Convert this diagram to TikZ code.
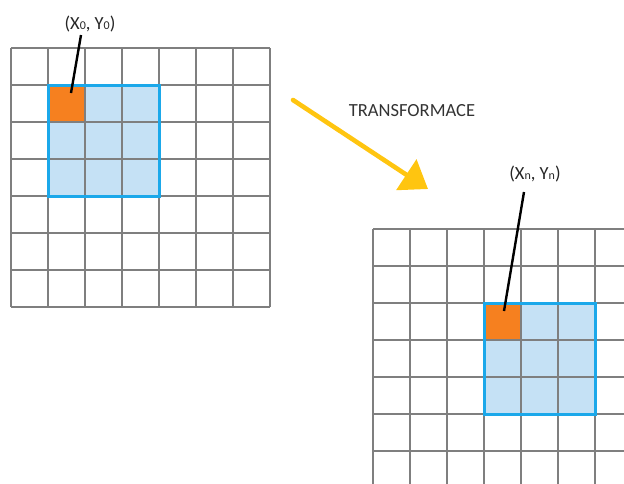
\documentclass[tikz,border=0pt]{standalone}
\usepackage{fontspec}
\setmainfont{Carlito}
\usetikzlibrary{arrows.meta}
\definecolor{gridgray}{HTML}{7F7F7F}
\definecolor{cellorange}{HTML}{F6801F}
\definecolor{winfill}{HTML}{C5E1F5}
\definecolor{winborder}{HTML}{1BA8EA}
\definecolor{arrowyellow}{HTML}{FFC510}
\tikzset{
  gridline/.style={draw=gridgray, line width=1.2pt},
  winbox/.style={draw=winborder, line width=3pt},
  leader/.style={draw=black, line width=2.4pt},
  coordlabel/.style={font=\fontsize{18.5}{21}\selectfont, text=black!85, inner sep=0pt}
}
\newcommand{\sbs}[1]{\raisebox{-0.3pt}{\fontsize{12}{12}\selectfont #1}}
\begin{document}
\begin{tikzpicture}[x=1pt,y=-1pt]
\useasboundingbox (0,0) rectangle (624,483);
\clip (0,0) rectangle (624,483);
% ---- left grid
\fill[winfill] (48,85) rectangle (159,196);
\fill[cellorange] (48,85) rectangle (85,122);
\foreach \i in {0,...,7} {
  \draw[gridline] (11+37*\i,48) -- (11+37*\i,307);
  \draw[gridline] (11,48+37*\i) -- (270,48+37*\i);
}
\draw[winbox] (48,85) rectangle (159,196);
% ---- right grid
\fill[winfill] (484,303) rectangle (595,414);
\fill[cellorange] (484,303) rectangle (521,340);
\foreach \i in {0,...,7} {
  \draw[gridline] (373+37*\i,229) -- (373+37*\i,488);
  \draw[gridline] (373,229+37*\i) -- (632,229+37*\i);
}
\draw[winbox] (484,303) rectangle (595,414);
% ---- labels and leaders
\node[coordlabel] (lab0) at (90,24) {(X\sbs{0}, Y\sbs{0})};
\node[coordlabel] (labn) at (535,174) {(X\sbs{n}, Y\sbs{n})};
\coordinate (l0s) at (81,35);
\coordinate (l0e) at (71,93);
\coordinate (lns) at (524,192);
\coordinate (lne) at (504,311);
\draw[leader] (l0s) -- (l0e);
\draw[leader] (lns) -- (lne);
% ---- transformation arrow
\node[font=\fontsize{18.5}{21}\selectfont, text=black!80, inner sep=0pt] (tr) at (412,111) {TRANSFORMACE};
\coordinate (a1) at (293,100);
\coordinate (a2) at (428,189);
\draw[arrowyellow, line width=4.6pt, line cap=round,
  -{Triangle[length=26pt,width=36pt]}] (a1) -- (a2);
\end{tikzpicture}
\end{document}
